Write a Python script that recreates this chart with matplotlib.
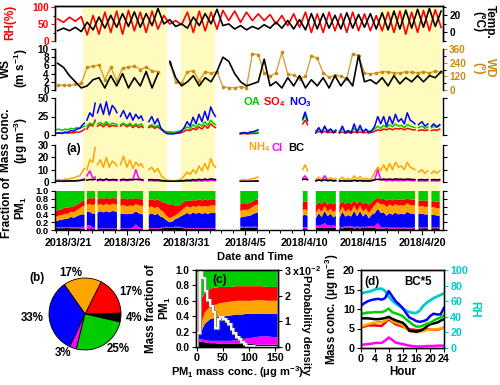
import numpy as np
import matplotlib.pyplot as plt
import matplotlib.dates as mdates
import matplotlib.patheffects as pe
from matplotlib.ticker import MultipleLocator, FixedLocator, FuncFormatter
from datetime import datetime

nan = np.nan

# ── Style ─────────────────────────────────────────────────────────────────────
plt.rcParams['font.family'] = ['Liberation Sans', 'DejaVu Sans']
plt.rcParams['font.weight'] = 'bold'
plt.rcParams['axes.labelweight'] = 'bold'
plt.rcParams['font.size'] = 7.7
plt.rcParams['mathtext.fontset'] = 'custom'
plt.rcParams['mathtext.rm'] = 'Liberation Sans:bold'
plt.rcParams['mathtext.bf'] = 'Liberation Sans:bold'
plt.rcParams['mathtext.default'] = 'bf'
plt.rcParams['axes.linewidth'] = 1.0

C_OA, C_SO4, C_NO3 = '#00cc00', '#ff0000', '#0000ff'
C_NH4, C_CL, C_BC = '#ffa500', '#ff00ff', 'black'
C_WD, C_RHD, C_SHADE = '#cc8a10', '#00cccc', '#fffbbf'

# ── Data: meteorology, 03:00 and 15:00 each day from 3/20 to 4/21 ──────────────
rh = [65, 55, 70, 58, 72, 18, 75, 20, 85, 25, 88, 20, 90, 30, 85, 25, 88, 35,   # 3/20-3/28
      75, 50, 60, 48, 85, 25, 88, 30, 85, 35,                                   # 3/29-4/2
      90, 60, 88, 55, 85, 60, 80, 60, 78, 50, 75, 45, 80, 40,                   # 4/3-4/9
      85, 25, 80, 25, 85, 30, 80, 25, 85, 30, 80, 30,                           # 4/10-4/15
      75, 30, 85, 25, 88, 20, 85, 25, 90, 30, 92, 40]                           # 4/16-4/21
temp = [2, 5, 2, 6, 1, 12, 3, 18, 5, 20, 6, 22, 7, 24, 6, 22, 8, 28,
        10, 15, 7, 10, 5, 18, 8, 22, 10, 27,
        8, 10, 4, 8, 3, 7, 4, 9, 5, 12, 5, 14, 4, 15,
        3, 22, 4, 22, 5, 20, 4, 23, 5, 21, 6, 22,
        4, 23, 3, 25, 4, 26, 5, 27, 6, 28, 7, 25]
ws = [6.5, 5.5, 3.5, 2, 0.5, 1, 2.5, 3, 0.5, 3.5, 1, 4, 0.5, 3, 1, 4.5, 0.5, 4,
      nan, 7, 3, 1, 2, 3.5, 1, 3, 2, 4.5,
      8, 7, 4, 2, 1, 1.5, 2, 7.5, 1, 2, 0.5, 3, 1, 3.5,
      0.5, 2.5, 1, 3, 0.5, 3.5, 1, 3, 1, 8.5, 2, 2.5,
      1.5, 3, 1, 3.5, 1.5, 3, 2, 3.5, 2, 3.5, 3, 4.5]
wd = [40, 45, 40, 50, 60, 200, 210, 220, 90, 200, 80, 190, 200, 210, 180, 200, 170, 160,
      nan, 240, 70, 60, 160, 170, 80, 160, 150, 160,
      30, 20, 20, 30, 20, 320, 310, 150, 120, 150, 330, 140, 130, 100,
      120, 300, 280, 150, 110, 130, 120, 100, 320, 300, 150, 140,
      150, 160, 160, 150, 150, 160, 155, 150, 160, 150, 165, 155]

# ── Data: PM1 species (day of March, NaN rows mark data gaps) ─────────────────
chem_day = [19.9, 20.25, 20.5, 20.75, 21.0, 21.25, 21.5, 21.75, 22.0, 22.25, 22.4, 22.5,
            22.6, 22.85, 23.1, 23.3, 23.4,
            23.5, 23.75, 24.0, 24.25, 24.5, 24.75, 25.0, 25.15, 25.3,
            25.45, 25.7, 26.0, 26.25, 26.5, 26.75, 27.0, 27.2, 27.35, 27.6,
            27.85, 28.1, 28.35, 28.6, 28.85, 29.1, 29.35, 29.6, 29.85, 30.1, 30.35, 30.6,
            30.85, 31.1, 31.35, 31.6, 31.85, 32.1, 32.35, 32.6, 32.85, 33.1, 33.3, 33.5, 34.5,
            35.6, 35.9, 36.2, 36.5, 36.8, 37.1, 39.0,
            40.9, 41.1, 41.3, 41.65,
            42.0, 42.25, 42.5, 42.75, 43.0, 43.25, 43.5, 43.7, 43.85,
            44.0, 44.25, 44.5, 44.75, 45.0, 45.25, 45.5, 45.75, 46.0, 46.25, 46.5, 46.75, 47.0,
            47.25, 47.5, 47.75, 48.0, 48.25, 48.5, 48.75, 49.0, 49.25, 49.5, 49.75, 50.0,
            50.2, 50.4, 50.55,
            50.7, 51.0, 51.25, 51.5, 51.65,
            51.8, 52.0, 52.25, 52.5]
oa = [7, 8, 6, 8, 7, 9, 8, 10, 9, 11, 12, nan,
      12, 16, 14, 18, nan,
      15, 17, 14, 18, 13, 16, 15, 14, nan,
      14, 16, 13, 16, 12, 15, 13, 15, 12, nan,
      12, 14, 11, 13, 9, 6, 4, 4, 3.5, 4, 5, 6,
      8, 11, 9, 14, 10, 15, 12, 18, 13, 20, 16, 14, nan,
      3, 3.5, 3, 4, 3.5, 4, nan,
      20, 27, 18, nan,
      6, 9, 5, 10, 6, 8, 5, 7, nan,
      5, 8, 4, 6, 4, 9, 5, 8, 5, 7, 5, 6, 8, 12, 9, 13, 10, 14, 11, 15, 12, 13, 10, 14, 12,
      11, 10, nan,
      10, 12, 9, 11, nan,
      10, 12, 10, 13]
so4 = [2, 2.5, 2, 3, 2.5, 3, 3, 4, 4, 6, 8, nan,
       8, 14, 12, 20, nan,
       12, 14, 11, 15, 11, 13, 12, 12, nan,
       12, 15, 11, 14, 10, 13, 10, 12, 10, nan,
       10, 12, 9, 11, 8, 5, 4, 4, 3.5, 2.5, 2.5, 3,
       5, 7, 6, 9, 7, 11, 8, 13, 9, 15, 12, 10, nan,
       1.5, 2, 1.5, 2, 2, 2.5, nan,
       15, 20, 14, nan,
       3, 5, 3, 5, 3, 4, 3, 4, nan,
       3, 4, 2.5, 3.5, 2.5, 4.5, 3, 4, 3, 3.5, 3, 3.5, 5, 7, 6, 8, 7, 9, 7, 9, 8, 9, 7, 9, 8,
       7, 7, nan,
       6, 7, 6, 7, nan,
       6, 7, 6, 8]
no3 = [2, 3, 2.5, 4, 3.5, 6, 5, 8, 9, 14, 16, nan,
       20, 30, 25, 43, nan,
       30, 42, 28, 45, 27, 40, 35, 30, nan,
       25, 33, 22, 30, 20, 28, 22, 26, 20, nan,
       18, 25, 15, 22, 10, 5, 2, 1.5, 1.5, 2, 3, 5,
       10, 18, 12, 24, 15, 28, 18, 32, 20, 38, 30, 25, nan,
       2, 3, 2.5, 4, 5, 7, nan,
       22, 31, 20, nan,
       3, 10, 3, 12, 4, 8, 3, 6, nan,
       3, 12, 3, 6, 3, 15, 4, 13, 4, 8, 3, 6, 12, 25, 15, 25, 12, 25, 15, 28, 18, 22, 15, 30, 20,
       18, 15, nan,
       14, 18, 12, 15, nan,
       12, 15, 11, 14]
nh4 = [1.5, 2, 1.5, 2.5, 2, 3, 3, 4.5, 5, 9, 11, nan,
       10, 18, 16, 28, nan,
       14, 18, 12, 20, 12, 17, 15, 13, nan,
       14, 21, 12, 18, 11, 16, 13, 15, 12, nan,
       10, 12, 8, 11, 6, 3, 1.5, 1.2, 1.2, 1, 1.5, 2.5,
       5, 8, 6, 10, 7, 13, 9, 15, 10, 19, 14, 12, nan,
       1.5, 2, 1.5, 2.5, 3, 4, nan,
       10, 14, 9, nan,
       2, 4, 2, 5, 2, 3.5, 2, 3, nan,
       2, 4, 1.5, 3, 1.5, 5, 2, 4.5, 2, 3, 2, 3, 8, 12, 9, 14, 9, 15, 10, 16, 12, 13, 10, 16, 12,
       11, 10, nan,
       8, 10, 7, 9, nan,
       7, 9, 7, 9]
cl = [0.3, 0.4, 0.3, 0.5, 0.4, 0.6, 0.5, 0.8, 1.0, 2.0, 2.5, nan,
      5, 9, 3, 4, nan,
      1, 1.5, 1, 2, 1, 1.5, 1.2, 1, nan,
      1, 1.5, 1, 1.5, 2, 10, 3, 1.5, 1, nan,
      1, 1.2, 0.8, 1, 0.6, 0.4, 0.3, 0.2, 0.2, 0.2, 0.3, 0.4,
      0.5, 0.7, 0.6, 1, 0.7, 1, 0.8, 1.2, 0.9, 1.5, 1.2, 1, nan,
      0.3, 0.3, 0.3, 0.4, 0.5, 0.6, nan,
      3, 5, 2, nan,
      0.8, 2, 1, 5, 1, 1.5, 0.8, 1, nan,
      0.5, 1, 0.5, 0.8, 0.5, 1.5, 0.6, 1.2, 0.5, 0.8, 0.5, 1, 2, 10, 2, 1.5, 1, 1.5, 1, 1.5, 1,
      1.2, 1, 1.5, 1.2, 1, 1, nan,
      0.8, 1, 0.8, 1, nan,
      0.8, 1, 0.8, 1]
bc = [0.6, 0.8, 0.6, 0.9, 0.8, 1.0, 0.9, 1.2, 1.3, 1.6, 1.8, nan,
      1.5, 2, 1.8, 2.2, nan,
      1.8, 2.2, 1.6, 2.4, 1.6, 2.0, 1.9, 1.8, nan,
      1.8, 2.2, 1.7, 2.1, 1.8, 2.2, 1.9, 2.0, 1.8, nan,
      1.8, 2.0, 1.6, 1.8, 1.4, 1.0, 0.8, 0.6, 0.6, 0.7, 0.8, 1.0,
      1.2, 1.6, 1.3, 2, 1.5, 2.2, 1.7, 2.4, 1.8, 2.6, 2.3, 2.0, nan,
      0.5, 0.6, 0.5, 0.7, 0.8, 0.9, nan,
      2, 2.5, 1.8, nan,
      1, 1.5, 1, 1.8, 1.1, 1.4, 1, 1.2, nan,
      0.8, 1.2, 0.7, 1, 0.7, 1.4, 0.8, 1.3, 0.8, 1.1, 0.8, 1.2, 1.8, 2.2, 1.8, 2.4, 2, 2.4, 2,
      2.5, 2.2, 2.3, 2, 2.4, 2.2, 2, 2, nan,
      1.8, 2, 1.7, 2, nan,
      1.8, 2, 1.7, 2]

# pollution episodes (shaded), day of March
episodes = [(22.3, 29.4), (30.6, 33.5), (47.35, 52.6)]

# ── Data: (b) pie ─────────────────────────────────────────────────────────────
pie_species = ['BC', 'SO4', 'NH4', 'NO3', 'Cl', 'OA']
pie_pct = [4, 17, 17, 33, 3, 25]

# ── Data: (c) fractions vs PM1 mass ───────────────────────────────────────────
pm_bin = [3, 8, 15, 25, 35, 45, 55, 65, 75, 85, 95, 105, 115, 125, 135, 145, 155]
f_bc = [.07, .07, .06, .05, .05, .04, .04, .04, .04, .04, .04, .04, .03, .03, .03, .03, .03]
f_cl = [.03, .03, .03, .03, .03, .04, .04, .04, .05, .06, .07, .08, .10, .11, .11, .10, .10]
f_no3 = [.05, .10, .21, .28, .30, .32, .32, .33, .33, .32, .32, .31, .30, .29, .29, .30, .30]
f_nh4 = [.03, .10, .15, .16, .17, .17, .18, .18, .18, .18, .17, .17, .18, .18, .17, .17, .17]
f_so4 = [.44, .32, .25, .24, .22, .21, .20, .19, .19, .19, .19, .19, .18, .18, .18, .18, .18]
f_oa = [.38, .38, .30, .24, .23, .22, .22, .22, .21, .21, .21, .21, .21, .21, .22, .22, .22]
pdf_edges = [0, 5, 10, 15, 20, 25, 30, 35, 40, 45, 50, 55, 60, 65, 70, 75, 80, 85, 90, 95,
             100, 105, 110, 115, 120, 125, 130, 135, 140, 145, 150, 155]
pdf_vals = [0.55, 3.0, 2.7, 2.2, 1.85, 1.6, 1.35, 0.75, 1.1, 1.15, 1.1, 1.0, 0.9, 0.7, 0.55,
            0.4, 0.3, 0.2, 0.1, 0.05, 0.03, 0.02, 0.01, 0.01, 0, 0, 0, 0, 0, 0, 0]

# ── Data: (d) diurnal cycles ──────────────────────────────────────────────────
hours = list(range(25))
rh_d = [70, 71, 72, 73, 75, 76, 76, 73, 66, 61, 57, 54, 51, 48, 46, 45, 45, 48, 54, 58, 61,
        64, 66, 68, 70]
no3_d = [10.8, 11.5, 12.0, 12.3, 12.5, 12.6, 12.4, 12.8, 14.6, 13.3, 12.0, 11.2, 10.3, 9.0,
         7.8, 7.4, 6.9, 6.7, 6.9, 7.2, 8.2, 8.8, 8.6, 8.6, 10.3]
oa_d = [8.8, 8.9, 9.1, 9.1, 9.2, 9.2, 9.2, 9.5, 10.1, 9.2, 8.9, 8.6, 8.2, 7.4, 6.7, 6.0, 5.5,
        5.5, 5.8, 6.2, 6.5, 7.0, 7.5, 7.8, 8.4]
bc5_d = [7.6, 7.6, 7.6, 7.5, 7.4, 7.4, 7.5, 7.7, 8.0, 7.5, 7.1, 6.8, 6.5, 5.7, 4.4, 4.3, 4.2,
         4.4, 4.8, 5.5, 6.1, 6.3, 6.5, 7.0, 7.4]
nh4_d = [5.5, 5.8, 6.1, 6.3, 6.5, 6.6, 6.7, 6.9, 7.8, 6.9, 6.5, 6.2, 5.8, 5.0, 4.4, 4.2, 4.0,
         4.2, 4.4, 4.6, 4.8, 4.8, 4.8, 5.0, 5.3]
so4_d = [5.3, 5.5, 5.8, 5.8, 5.8, 5.7, 5.7, 6.5, 7.4, 6.7, 6.1, 5.8, 5.5, 5.1, 4.8, 4.7, 4.6,
         4.6, 4.7, 4.8, 4.8, 4.7, 4.7, 4.9, 5.3]
cl_d = [0.8, 0.9, 1.0, 1.1, 1.3, 1.3, 1.3, 1.9, 2.7, 2.1, 1.4, 1.2, 1.0, 0.8, 0.6, 0.5, 0.4,
        0.4, 0.4, 0.5, 0.5, 0.5, 0.6, 0.6, 0.6]


# ── Helpers ───────────────────────────────────────────────────────────────────
DAY0 = mdates.date2num(datetime(2018, 2, 28))


def to_date(days):
    return DAY0 + np.asarray(days, dtype=float)


def px(x, y, w, h):
    # pixel box (left, top, width, height) -> figure fraction
    return [x / 500, 1 - (y + h) / 385, w / 500, h / 385]


def date_label(x, pos):
    d = mdates.num2date(x)
    return f"{d.year}/{d.month}/{d.day}"


def style_ts(ax, top=False, bottom=False):
    ax.patch.set_alpha(0)
    ax.spines['top'].set_visible(top)
    ax.spines['bottom'].set_visible(bottom)
    ax.tick_params(axis='y', which='both', direction='out', length=3, width=0.8, pad=1.5,
                   labelsize=7.2)
    ax.tick_params(axis='y', which='minor', length=1.8)
    ax.set_xlim(to_date(19.9), to_date(52.78))
    if not bottom:
        ax.tick_params(axis='x', which='both', bottom=False, labelbottom=False)


met_day = 20.125 + 0.5 * np.arange(len(rh))
t_met = to_date(met_day)
t_chem = to_date(chem_day)

fig = plt.figure(figsize=(5.0, 3.85), dpi=100)

# yellow episodes behind all time-series panels
bg = fig.add_axes(px(55, 6, 388, 224))
bg.set_xlim(to_date(19.9), to_date(52.78))
for a, b in episodes:
    bg.axvspan(to_date(a), to_date(b), color=C_SHADE, lw=0)
bg.axis('off')

# ── RH / Temp ─────────────────────────────────────────────────────────────────
ax1 = fig.add_axes(px(55, 6, 388, 35))
ax1.plot(t_met, rh, color='red', lw=1.2)
ax1.set_ylim(0, 103)
ax1.set_yticks([0, 50, 100])
ax1.yaxis.set_minor_locator(MultipleLocator(25))
style_ts(ax1, top=True)
ax1.tick_params(axis='y', colors='red')
ax1.spines['left'].set_color('red')
ax1t = ax1.twinx()
ax1t.plot(t_met, temp, color='black', lw=1.2)
ax1t.set_ylim(-10, 30.9)
ax1t.set_yticks([0, 20])
ax1t.yaxis.set_minor_locator(MultipleLocator(10))
style_ts(ax1t, top=True)

# ── WS / WD ───────────────────────────────────────────────────────────────────
ax2 = fig.add_axes(px(55, 49, 388, 41))
ax2t = ax2.twinx()
ax2t.plot(t_met, wd, '-', color=C_WD, lw=1.0, alpha=0.8)
ax2t.plot(t_met, wd, 'o', color=C_WD, ms=2.6, mew=0)
ax2t.set_ylim(0, 360)
ax2t.set_yticks([0, 120, 240, 360])
ax2t.yaxis.set_minor_locator(MultipleLocator(60))
style_ts(ax2t)
ax2t.tick_params(axis='y', colors=C_WD)
ax2t.spines['right'].set_color(C_WD)
ax2.plot(t_met, ws, color='black', lw=1.2, zorder=3)
ax2.set_ylim(0, 10)
ax2.set_yticks([0, 2, 4, 6, 8, 10])
style_ts(ax2)
ax2.set_zorder(ax2t.get_zorder() + 1)

# ── OA / SO4 / NO3 ────────────────────────────────────────────────────────────
ax3 = fig.add_axes(px(55, 98, 388, 37))
ax3.plot(t_chem, so4, color=C_SO4, lw=1.1)
ax3.plot(t_chem, oa, color=C_OA, lw=1.1)
ax3.plot(t_chem, no3, color=C_NO3, lw=1.1)
ax3.set_ylim(0, 50)
ax3.set_yticks([0, 25, 50])
style_ts(ax3)
ax3.tick_params(axis='y', which='both', right=True)
ax3.text(0.485, 0.88, 'OA', color=C_OA, transform=ax3.transAxes, va='center', fontsize=8)
ax3.text(0.537, 0.88, 'SO$_4$', color=C_SO4, transform=ax3.transAxes, va='center', fontsize=8)
ax3.text(0.603, 0.88, 'NO$_3$', color=C_NO3, transform=ax3.transAxes, va='center', fontsize=8)

# ── NH4 / Cl / BC ─────────────────────────────────────────────────────────────
ax4 = fig.add_axes(px(55, 145, 388, 37))
ax4.plot(t_chem, nh4, color=C_NH4, lw=1.1)
ax4.plot(t_chem, cl, color=C_CL, lw=1.1)
ax4.plot(t_chem, bc, color=C_BC, lw=1.1)
ax4.set_ylim(0, 30)
ax4.set_yticks([0, 10, 20, 30])
style_ts(ax4)
ax4.tick_params(axis='y', which='both', right=True)
ax4.text(0.03, 0.9, '(a)', transform=ax4.transAxes, va='center', fontsize=8.5)
ax4.text(0.497, 0.93, 'NH$_4$', color=C_NH4, transform=ax4.transAxes, va='center', fontsize=8)
ax4.text(0.559, 0.93, 'Cl', color=C_CL, transform=ax4.transAxes, va='center', fontsize=8)
ax4.text(0.600, 0.93, 'BC', color=C_BC, transform=ax4.transAxes, va='center', fontsize=8)

# ── Fractions ─────────────────────────────────────────────────────────────────
ax5 = fig.add_axes(px(55, 191, 388, 39))
stack = [bc, cl, no3, nh4, so4, oa]
stack_col = [C_BC, C_CL, C_NO3, C_NH4, C_SO4, C_OA]
conc = np.array(stack, dtype=float)
frac = conc / conc.sum(axis=0)
lower = np.zeros(len(chem_day))
for f, c in zip(frac, stack_col):
    ax5.fill_between(t_chem, lower, lower + f, color=c, lw=0)
    lower = lower + f
ax5.set_ylim(0, 1)
ax5.set_yticks(np.arange(0, 1.01, 0.2))
ax5.yaxis.set_major_formatter(FuncFormatter(lambda v, p: f"{v:.1f}"))
style_ts(ax5, bottom=True)
ax5.tick_params(axis='y', which='both', right=True, labelsize=6.8)
ax5.xaxis.set_major_locator(FixedLocator(to_date([21, 26, 31, 36, 41, 46, 51])))
ax5.xaxis.set_minor_locator(MultipleLocator(1))
ax5.xaxis.set_major_formatter(FuncFormatter(date_label))
ax5.tick_params(axis='x', which='major', length=3.5, width=0.8, pad=2)
ax5.tick_params(axis='x', which='minor', length=2, width=0.7)

fig.text(0.51, 1 - 257 / 385, 'Date and Time', ha='center', va='center', fontsize=8)
fig.text(0.021, 1 - 22 / 385, 'RH(%)', color='red', rotation=90, ha='center', va='center', fontsize=8.5)
fig.text(0.030, 1 - 68 / 385, 'WS\n(m s$^{-1}$)', rotation=90, ha='center', va='center',
         fontsize=8.5, multialignment='center', linespacing=1.05)
fig.text(0.030, 1 - 140 / 385, 'Mass conc.\n(μg m$^{-3}$)', rotation=90, ha='center',
         va='center', fontsize=8.5, multialignment='center', linespacing=1.05)
fig.text(0.030, 1 - 208 / 385, 'Fraction of\nPM$_1$', rotation=90, ha='center', va='center',
         fontsize=8.5, multialignment='center', linespacing=1.05)
fig.text(0.968, 1 - 22 / 385, 'Temp.\n(°C)', rotation=-90, ha='center', va='center',
         fontsize=8.5, multialignment='center', linespacing=1.0)
fig.text(0.968, 1 - 68 / 385, 'WD\n(°)', rotation=-90, ha='center', va='center', color=C_WD,
         fontsize=8.5, multialignment='center', linespacing=1.0)

# ── (b) pie ───────────────────────────────────────────────────────────────────
axb = fig.add_axes(px(40, 269, 90, 90))
pie_col = {'BC': C_BC, 'SO4': C_SO4, 'NH4': C_NH4, 'NO3': C_NO3, 'Cl': C_CL, 'OA': C_OA}
axb.pie(pie_pct, colors=[pie_col[s] for s in pie_species], startangle=-13,
        labels=[f"{p}%" for p in pie_pct], labeldistance=1.14,
        wedgeprops=dict(edgecolor='black', linewidth=0.6),
        textprops=dict(fontsize=8.3, fontweight='bold'))
fig.text(0.074, 1 - 278 / 385, '(b)', ha='center', va='center', fontsize=8.5)

# ── (c) fraction vs PM1 ───────────────────────────────────────────────────────
axc = fig.add_axes(px(196, 270, 82, 77))
axc.stackplot(pm_bin, f_bc, f_cl, f_no3, f_nh4, f_so4, f_oa,
              colors=[C_BC, C_CL, C_NO3, C_NH4, C_SO4, C_OA], lw=0)
axc.set_xlim(-2, 156)
axc.set_ylim(0, 1)
axc.set_xticks([0, 50, 100, 150])
axc.set_yticks(np.arange(0, 1.01, 0.2))
axc.yaxis.set_major_formatter(FuncFormatter(lambda v, p: f"{v:.1f}"))
axc.tick_params(direction='out', length=3, width=0.8, pad=1.5)
axc.tick_params(axis='y', labelsize=7.2)
axc.set_xlabel('PM$_1$ mass conc. (μg m$^{-3}$)', fontsize=8, labelpad=1)
axc.set_ylabel('Mass fraction of\nPM$_1$', fontsize=8.3, labelpad=2, linespacing=1.1)
axc.text(0.2, 0.87, '(c)', transform=axc.transAxes, fontsize=8.5, va='center')
axc2 = axc.twinx()
axc2.stairs(pdf_vals, pdf_edges, color='white', lw=1.3,
            path_effects=[pe.Stroke(linewidth=2.3, foreground='0.55'), pe.Normal()])
axc2.set_ylim(0, 3)
axc2.set_yticks([0, 1, 2, 3])
axc2.set_yticklabels(['0', '1', '2', '3 x10$^{-2}$'])
axc2.tick_params(direction='out', length=3, width=0.8, pad=1.5)
axc2.set_ylabel('Probability density', rotation=-90, fontsize=8, va='center')
axc2.yaxis.set_label_coords(1.34, 0.29)

# ── (d) diurnal ───────────────────────────────────────────────────────────────
axd = fig.add_axes(px(361, 270, 83, 78))
axd2 = axd.twinx()
axd2.plot(hours, rh_d, color=C_RHD, lw=2)
axd2.set_ylim(0, 100)
axd2.set_yticks([0, 20, 40, 60, 80, 100])
axd2.tick_params(axis='y', colors=C_RHD, direction='out', length=3, width=0.8, pad=1.5)
axd2.spines['right'].set_color(C_RHD)
axd2.set_ylabel('RH', color=C_RHD, rotation=-90, fontsize=8.3, labelpad=9)
for vals, c in [(cl_d, C_CL), (so4_d, C_SO4), (nh4_d, C_NH4), (bc5_d, C_BC),
                (oa_d, C_OA), (no3_d, C_NO3)]:
    axd.plot(hours, vals, color=c, lw=1.8)
axd.set_zorder(axd2.get_zorder() + 1)
axd.patch.set_alpha(0)
axd.set_xlim(0, 24)
axd.set_ylim(0, 20)
axd.set_xticks([0, 4, 8, 12, 16, 20, 24])
axd.set_yticks([0, 5, 10, 15, 20])
axd.tick_params(direction='out', length=3, width=0.8, pad=1.5)
axd.set_xlabel('Hour', fontsize=8.3, labelpad=1)
axd.set_ylabel('Mass conc. (μg m$^{-3}$)', fontsize=8.3, va='center')
axd.yaxis.set_label_coords(-0.35, 0.5)
axd.text(0.04, 0.85, '(d)', transform=axd.transAxes, fontsize=8.5, va='center')
axd.text(0.52, 0.85, 'BC*5', transform=axd.transAxes, fontsize=8.3, va='center')

fig.savefig('out.png', dpi=100)
